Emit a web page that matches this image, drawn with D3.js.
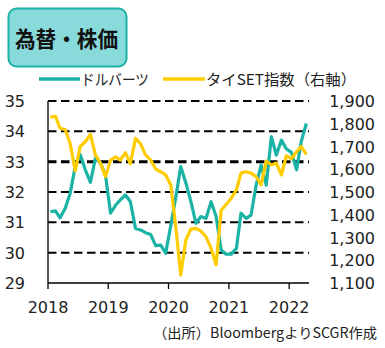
<!DOCTYPE html>
<html>
<head>
<meta charset="utf-8">
<script src="https://cdn.jsdelivr.net/npm/d3@7"></script>
<style>
  body { margin: 0; background: #fff; }
  svg { display: block; font-family: "Noto Sans CJK JP", "Noto Sans", sans-serif; }
  .tick-label { font-family: "DejaVu Sans", sans-serif; font-size: 16px; fill: #222; }
</style>
</head>
<body>
<script>
// monthly, Jan 2018 - Apr 2022
var usdThb = [31.35, 31.38, 31.15, 31.46, 31.95, 32.84, 33.24, 32.73, 32.32, 33.11, 32.95, 32.56,
              31.30, 31.57, 31.74, 31.90, 31.68, 30.80, 30.75, 30.66, 30.60, 30.23, 30.25, 29.98,
              30.90, 31.85, 32.84, 32.30, 31.70, 30.97, 31.19, 31.13, 31.68, 31.20, 30.09, 29.95,
              29.95, 30.14, 31.30, 31.13, 31.24, 32.23, 32.89, 32.23, 33.82, 33.22, 33.71, 33.42,
              33.30, 32.73, 33.66, 34.26];
var setIndex = [1829, 1833, 1780, 1775, 1713, 1593, 1700, 1721, 1753, 1663, 1627, 1567,
                1640, 1655, 1640, 1673, 1624, 1736, 1713, 1663, 1640, 1601, 1589, 1575,
                1531, 1340, 1135, 1289, 1337, 1340, 1328, 1304, 1252, 1180, 1420, 1445,
                1473, 1509, 1583, 1589, 1583, 1567, 1531, 1636, 1619, 1627, 1575, 1659,
                1647, 1677, 1700, 1665];
var leftTicks = [29, 30, 31, 32, 33, 34, 35];
var rightTicks = [1100, 1200, 1300, 1400, 1500, 1600, 1700, 1800, 1900];
var yearTicks = [2018, 2019, 2020, 2021, 2022];

var width = 385, height = 348;
var months = d3.timeMonth.range(new Date(2018, 0, 1), new Date(2022, 4, 1));

var svg = d3.select("body").append("svg")
    .attr("width", width)
    .attr("height", height);

var x = d3.scaleTime()
    .domain([new Date(2018, 0, 1), new Date(2022, 4, 1)])
    .range([48, 309]);
var yL = d3.scaleLinear().domain([29, 35]).range([283, 101]);
var yR = d3.scaleLinear().domain([1100, 1900]).range([283, 101]);

// plot each month at mid-month
function xm(i) { return x(d3.timeDay.offset(months[i], 14)); }

// title box
svg.append("rect")
    .attr("x", 8.5).attr("y", 8.5)
    .attr("width", 118).attr("height", 58)
    .attr("rx", 8)
    .attr("fill", "#88dadb")
    .attr("stroke", "#1cb2a6")
    .attr("stroke-width", 2);
svg.append("text")
    .attr("x", 15).attr("y", 47)
    .attr("font-size", 22)
    .attr("font-weight", "bold")
    .attr("fill", "#111")
    .attr("textLength", 103)
    .attr("lengthAdjust", "spacingAndGlyphs")
    .text("為替・株価");

// legend
var legend = [
    {label: "ドルバーツ", color: "#1ab3a5", x1: 39, x2: 80, len: 68},
    {label: "タイSET指数（右軸）", color: "#ffcc00", x1: 163, x2: 205, len: 150}
];
legend.forEach(function(d){
    svg.append("line")
        .attr("x1", d.x1).attr("x2", d.x2)
        .attr("y1", 79).attr("y2", 79)
        .attr("stroke", d.color)
        .attr("stroke-width", 3.5);
    svg.append("text")
        .attr("x", d.x2 + 1).attr("y", 84.5)
        .attr("font-size", 15)
        .attr("fill", "#222")
        .attr("textLength", d.len)
        .attr("lengthAdjust", "spacingAndGlyphs")
        .text(d.label);
});

// dashed gridlines
svg.selectAll(".grid")
    .data(leftTicks.slice(1))
    .enter().append("line")
    .attr("class", "grid")
    .attr("x1", 48).attr("x2", 309)
    .attr("y1", function(d){ return yL(d); })
    .attr("y2", function(d){ return yL(d); })
    .attr("stroke", "#000")
    .attr("stroke-width", function(d){ return d === 33 ? 3 : 2; })
    .attr("stroke-dasharray", "8.5,4.5");

// axes
svg.append("line")
    .attr("x1", 48).attr("x2", 48).attr("y1", 101).attr("y2", 283)
    .attr("stroke", "#000").attr("stroke-width", 1.3);
svg.append("line")
    .attr("x1", 48).attr("x2", 309).attr("y1", 283).attr("y2", 283)
    .attr("stroke", "#000").attr("stroke-width", 1.3);

svg.selectAll(".xtick")
    .data(yearTicks)
    .enter().append("line")
    .attr("x1", function(d){ return x(new Date(d, 0, 1)); })
    .attr("x2", function(d){ return x(new Date(d, 0, 1)); })
    .attr("y1", 283).attr("y2", 289)
    .attr("stroke", "#000").attr("stroke-width", 1.3);

svg.selectAll(".xlabel")
    .data(yearTicks)
    .enter().append("text")
    .attr("class", "tick-label")
    .attr("x", function(d){ return x(new Date(d, 0, 1)); })
    .attr("y", 313)
    .attr("text-anchor", "middle")
    .text(function(d){ return d; });

svg.selectAll(".ylabel")
    .data(leftTicks)
    .enter().append("text")
    .attr("class", "tick-label")
    .attr("x", 25)
    .attr("y", function(d){ return yL(d) + 6; })
    .attr("text-anchor", "end")
    .text(function(d){ return d; });

svg.selectAll(".rlabel")
    .data(rightTicks)
    .enter().append("text")
    .attr("class", "tick-label")
    .attr("x", 375)
    .attr("y", function(d){ return yR(d) + 6; })
    .attr("text-anchor", "end")
    .text(function(d){ return d3.format(",")(d); });

// series
var lineL = d3.line()
    .x(function(d, i){ return xm(i); })
    .y(function(d){ return yL(d); });
var lineR = d3.line()
    .x(function(d, i){ return xm(i); })
    .y(function(d){ return yR(d); });

svg.append("path")
    .datum(usdThb)
    .attr("d", lineL)
    .attr("fill", "none")
    .attr("stroke", "#1ab3a5")
    .attr("stroke-width", 3.2)
    .attr("stroke-linejoin", "round");

svg.append("path")
    .datum(setIndex)
    .attr("d", lineR)
    .attr("fill", "none")
    .attr("stroke", "#ffcc00")
    .attr("stroke-width", 3.2)
    .attr("stroke-linejoin", "round");

// source note
svg.append("text")
    .attr("x", 153).attr("y", 338)
    .attr("font-size", 14)
    .attr("fill", "#222")
    .attr("textLength", 224)
    .attr("lengthAdjust", "spacingAndGlyphs")
    .text("（出所）BloombergよりSCGR作成");
</script>
</body>
</html>
